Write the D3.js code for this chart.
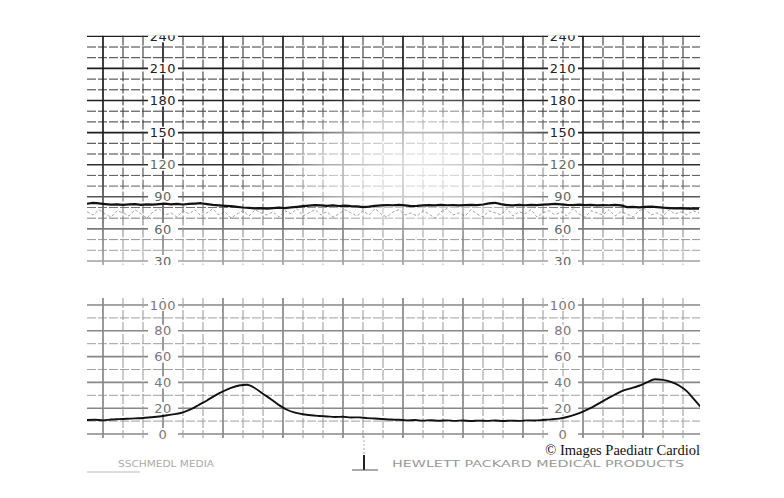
<!DOCTYPE html>
<html><head><meta charset="utf-8">
<script src="https://cdn.jsdelivr.net/npm/d3@7"></script>
<style>html,body{margin:0;padding:0;background:#fff;} svg{display:block;}</style>
</head><body>
<svg id="c" width="784" height="498"></svg>
<script>
// ---------- DATA ----------
const fhrTickLabels = [30, 60, 90, 120, 150, 180, 210, 240];
const uaTickLabels = [0, 20, 40, 60, 80, 100];
const labelColumnsSec = [76, 476];
const fhrStepSec = 6;
const fhrValues = [
  83.5,84.3,83.8,83.2,82.6,83.0,82.4,82.9,83.1,82.5,
  83.0,82.6,83.2,83.6,83.0,83.4,82.8,83.3,83.7,84.0,
  83.2,82.5,82.0,81.6,81.2,80.6,80.0,79.6,79.2,79.5,
  79.0,79.4,79.8,79.5,80.1,80.6,81.2,81.8,82.3,82.0,
  81.6,81.9,81.4,81.7,81.2,81.0,80.4,80.8,81.6,82.0,
  82.3,82.1,82.4,82.0,81.3,81.5,82.0,82.3,82.0,82.4,
  82.1,82.3,82.0,82.2,82.5,82.3,82.8,83.8,84.4,83.2,
  82.3,82.0,82.4,82.1,82.5,82.2,82.6,82.9,83.3,82.9,
  82.5,82.3,82.6,82.2,82.4,82.0,82.3,82.1,82.4,82.0,
  80.4,80.6,80.2,80.5,80.8,80.3,79.8,79.5,79.2,79.4,
  79.0,79.2,78.9
];
const fhrArtifactValues = [
  76,73,78,74,71,77,75,72,78,74,
  70,76,79,73,75,71,77,74,78,72,
  75,79,73,76,70,74,77,72,78,75,
  73,76,71,77,74,79,72,75,78,73,
  76,71,74,78,75,72,77,73,79,74,
  71,76,78,73,75,72,77,74,70,76,
  79,73,75,72,78,74,71,77,75,73,
  79,72,76,74,78,71,75,77,73,76,
  72,79,74,71,77,75,73,78,72,76,
  74,71,77,79,73,75,72,78,74,76,
  73,77,75
];
const uaStepSec = 8;
const uaValues = [
  10.8,11.0,10.6,11.2,11.5,11.8,12.1,12.4,13.0,13.6,
  14.5,15.4,16.8,19.2,22.6,26.0,29.8,33.0,35.8,37.6,
  38.2,35.5,31.2,27.0,22.4,18.8,16.6,15.3,14.5,14.0,
  13.6,13.2,13.4,12.8,12.9,12.3,12.0,11.6,11.2,11.0,
  10.6,10.8,10.4,10.7,10.3,10.6,10.2,10.5,10.1,10.4,
  10.2,10.5,10.1,10.4,10.2,10.6,10.5,10.9,11.3,11.9,
  13.2,15.0,17.4,20.2,23.8,27.2,30.6,33.6,35.4,37.4,
  40.0,42.4,42.0,40.4,37.6,33.0,26.0,19.0
];
const creditText = "© Images Paediatr Cardiol";
const footerLeftText = "SSCHMEDL  MEDIA";
const footerRightText = "HEWLETT PACKARD MEDICAL PRODUCTS";

// ---------- LAYOUT ----------
const svg = d3.select("#c");
const L = 87, R = 700;
const x = d3.scaleLinear([0, 613], [L, R]);
const yF = d3.scaleLinear([30, 240], [261, 36.3]);
const yU = d3.scaleLinear([0, 100], [434, 305]);
const upper = {top: 35.5, bottom: 265};
const lower = {top: 298, bottom: 438};

const defs = svg.append("defs");
defs.append("clipPath").attr("id", "clipU").append("rect")
  .attr("x", L).attr("y", upper.top).attr("width", R - L).attr("height", upper.bottom - upper.top);
defs.append("clipPath").attr("id", "clipL").append("rect")
  .attr("x", L).attr("y", lower.top).attr("width", R - L).attr("height", lower.bottom - lower.top);
const rg = defs.append("radialGradient").attr("id", "fade");
rg.append("stop").attr("offset", "0%").attr("stop-color", "#fff").attr("stop-opacity", 0.85);
rg.append("stop").attr("offset", "55%").attr("stop-color", "#fff").attr("stop-opacity", 0.6);
rg.append("stop").attr("offset", "100%").attr("stop-color", "#fff").attr("stop-opacity", 0);
const lg = defs.append("linearGradient").attr("id", "fadeDown").attr("x1", 0).attr("y1", 0).attr("x2", 0).attr("y2", 1);
lg.append("stop").attr("offset", "0%").attr("stop-color", "#fff").attr("stop-opacity", 0);
lg.append("stop").attr("offset", "100%").attr("stop-color", "#fff").attr("stop-opacity", 0.6);

const vSecs = d3.range(16, 613, 20);

function drawPanel(clipId, yScale, hVals, thickEvery, top, bottom, baseColor, thinColor) {
  const g = svg.append("g").attr("clip-path", `url(#${clipId})`);
  g.selectAll("line.h").data(hVals).join("line")
    .attr("x1", L).attr("x2", R)
    .attr("y1", d => yScale(d)).attr("y2", d => yScale(d))
    .attr("stroke", d => d % thickEvery === 0 ? baseColor : thinColor)
    .attr("stroke-width", d => d % thickEvery === 0 ? 1.6 : 1)
    .attr("stroke-dasharray", d => d % thickEvery === 0 ? null : "9,2");
  g.selectAll("line.v").data(vSecs).join("line")
    .attr("y1", top).attr("y2", bottom)
    .attr("x1", d => x(d)).attr("x2", d => x(d))
    .attr("stroke", d => (d - 16) % 60 === 0 ? baseColor : thinColor)
    .attr("stroke-width", d => (d - 16) % 60 === 0 ? 1.7 : 1.1)
    .attr("stroke-dasharray", d => (d - 16) % 60 === 0 ? null : "10,2");
  return g;
}

const gU = drawPanel("clipU", yF, d3.range(30, 251, 10), 30, upper.top, upper.bottom, "#1e1e1e", "#3a3a3a");
gU.append("ellipse").attr("cx", 420).attr("cy", 165).attr("rx", 170).attr("ry", 80).attr("fill", "url(#fade)");
gU.append("rect").attr("x", L).attr("y", 150).attr("width", R - L).attr("height", upper.bottom - 150).attr("fill", "url(#fadeDown)");

const gL = drawPanel("clipL", yU, d3.range(0, 101, 10), 20, lower.top, lower.bottom, "#555", "#777");
gL.append("rect").attr("x", L).attr("y", lower.top).attr("width", R - L).attr("height", lower.bottom - lower.top)
  .attr("fill", "#fff").attr("opacity", 0.3);

// axis labels (upper)
const gUL = svg.append("g").attr("clip-path", "url(#clipU)");
labelColumnsSec.forEach(s => {
  const cx = x(s);
  const grp = gUL.append("g");
  grp.selectAll("rect").data(fhrTickLabels).join("rect")
    .attr("x", cx - 15).attr("y", d => yF(d) - 6).attr("width", 30).attr("height", 12).attr("fill", "#fff");
  grp.selectAll("text").data(fhrTickLabels).join("text")
    .attr("x", cx).attr("y", d => yF(d)).attr("dy", "0.36em")
    .attr("text-anchor", "middle")
    .attr("font-family", "DejaVu Sans, sans-serif").attr("font-size", 13)
    .attr("letter-spacing", 0.5)
    .attr("fill", d => d >= 150 ? "#222" : "#666")
    .text(d => d);
});
// axis labels (lower)
labelColumnsSec.forEach(s => {
  const cx = x(s);
  const grp = svg.append("g");
  grp.selectAll("rect").data(uaTickLabels).join("rect")
    .attr("x", cx - 15).attr("y", d => yU(d) - 6).attr("width", 30).attr("height", 12).attr("fill", "#fff");
  grp.selectAll("text").data(uaTickLabels).join("text")
    .attr("x", cx).attr("y", d => yU(d)).attr("dy", "0.36em")
    .attr("text-anchor", "middle")
    .attr("font-family", "DejaVu Sans, sans-serif").attr("font-size", 13)
    .attr("letter-spacing", 0.5)
    .attr("fill", "#777")
    .text(d => d);
});

// traces
const gT = svg.append("g").attr("clip-path", "url(#clipU)");
gT.append("path").datum(fhrArtifactValues)
  .attr("d", d3.line().x((d, i) => x(i * fhrStepSec)).y(d => yF(d)))
  .attr("fill", "none").attr("stroke", "#555").attr("stroke-width", 0.9).attr("opacity", 0.6)
  .attr("stroke-dasharray", "3,2");
gT.append("path").datum(fhrValues)
  .attr("d", d3.line().x((d, i) => x(i * fhrStepSec)).y(d => yF(d)))
  .attr("fill", "none").attr("stroke", "#111").attr("stroke-width", 2.2).attr("stroke-linejoin", "round");

const gT2 = svg.append("g").attr("clip-path", "url(#clipL)");
gT2.append("path").datum(uaValues)
  .attr("d", d3.line().x((d, i) => x(i * uaStepSec)).y(d => yU(d)).curve(d3.curveMonotoneX))
  .attr("fill", "none").attr("stroke", "#111").attr("stroke-width", 1.9).attr("stroke-linejoin", "round");

// footer
svg.append("text").attr("x", R).attr("y", 455).attr("text-anchor", "end")
  .attr("font-family", "Liberation Serif, Times New Roman, serif").attr("font-size", 14.5)
  .attr("fill", "#111").text(creditText);
svg.append("text").attr("x", 392).attr("y", 467)
  .attr("textLength", 292).attr("lengthAdjust", "spacingAndGlyphs")
  .attr("font-family", "DejaVu Sans, sans-serif").attr("font-size", 8)
  .attr("fill", "#999").text(footerRightText);
svg.append("text").attr("x", 118).attr("y", 467)
  .attr("textLength", 96).attr("lengthAdjust", "spacingAndGlyphs")
  .attr("font-family", "DejaVu Sans, sans-serif").attr("font-size", 8)
  .attr("fill", "#aaa").text(footerLeftText);
svg.append("line").attr("x1", 364).attr("x2", 364).attr("y1", 436).attr("y2", 455)
  .attr("stroke", "#aaa").attr("stroke-width", 1).attr("stroke-dasharray", "2,2");
svg.append("line").attr("x1", 364).attr("x2", 364).attr("y1", 455).attr("y2", 470)
  .attr("stroke", "#222").attr("stroke-width", 2);
svg.append("line").attr("x1", 352).attr("x2", 378).attr("y1", 470).attr("y2", 470)
  .attr("stroke", "#555").attr("stroke-width", 1);
svg.append("line").attr("x1", L).attr("x2", 140).attr("y1", 472).attr("y2", 472)
  .attr("stroke", "#bbb").attr("stroke-width", 1);
</script>
</body></html>
